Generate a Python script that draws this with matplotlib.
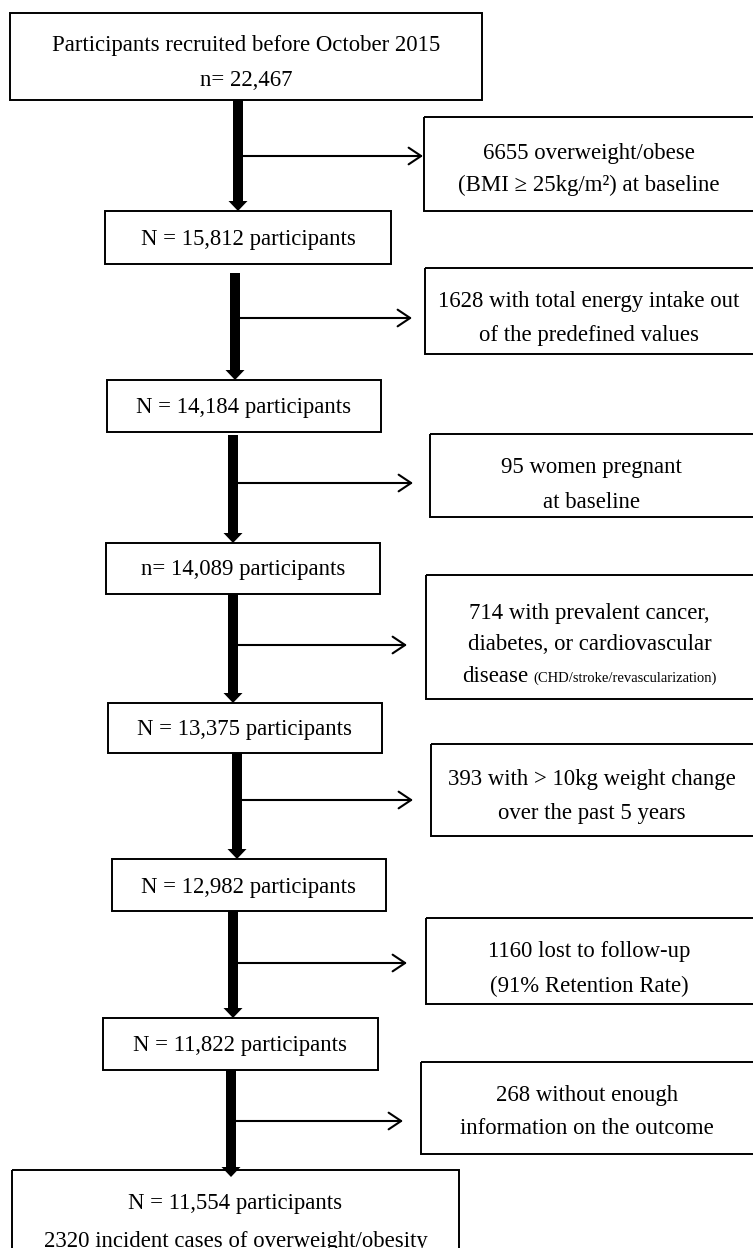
import matplotlib.pyplot as plt
from matplotlib.patches import Rectangle, FancyArrow

plt.rcParams['font.family'] = ['Liberation Serif', 'DejaVu Serif']

# main flow boxes (left column)
main_text = [
    "Participants recruited before October 2015\nn= 22,467",
    "N = 15,812 participants",
    "N = 14,184 participants",
    "n= 14,089 participants",
    "N = 13,375 participants",
    "N = 12,982 participants",
    "N = 11,822 participants",
    "N = 11,554 participants\n2320 incident cases of overweight/obesity",
]

# exclusion boxes (right column)
excl_text = [
    "6655 overweight/obese\n(BMI \u2265 25kg/m\u00b2) at baseline",
    "1628 with total energy intake out\nof the predefined values",
    "95 women pregnant\nat baseline",
    "714 with prevalent cancer,\ndiabetes, or cardiovascular\ndisease",
    "393 with > 10kg weight change\nover the past 5 years",
    "1160 lost to follow-up\n(91% Retention Rate)",
    "268 without enough\ninformation on the outcome",
]
excl_note = "(CHD/stroke/revascularization)"

# layout in pixels: (left, right, top, bottom)
main_box = [(10, 482, 13, 100), (105, 391, 211, 264), (107, 381, 380, 432),
            (106, 380, 543, 594), (108, 382, 703, 753), (112, 386, 859, 911),
            (103, 378, 1018, 1070), (12, 459, 1170, 1270)]
main_lines_y = [[46, 81], [239], [408], [570], [730], [887], [1046], [1204, 1241]]
excl_box = [(424, 760, 117, 211), (425, 760, 268, 354), (430, 760, 434, 517),
            (426, 760, 575, 699), (431, 760, 744, 836), (426, 760, 918, 1004),
            (421, 760, 1062, 1154)]
excl_lines_y = [[153, 185], [302, 335], [468, 503], [613, 644, 676], [779, 813],
                [951, 986], [1096, 1129]]
# down arrows: (x, y_start, y_tip), side arrow y and tip x
down = [(238, 100, 211), (235, 273, 380), (233, 435, 543), (233, 594, 703),
        (237, 753, 859), (233, 911, 1018), (231, 1070, 1177)]
side_y = [156, 318, 483, 645, 800, 963, 1121]
side_tip = [423, 412, 413, 407, 413, 407, 403]

fs = 16.4

fig = plt.figure(figsize=(7.53, 12.48), dpi=100)
ax = fig.add_axes([0, 0, 1, 1])
ax.set_xlim(0, 753)
ax.set_ylim(1248, 0)
ax.axis('off')


def draw_box(box, lines, ys):
    l, r, t, b = box
    ax.add_patch(Rectangle((l, t), r - l, b - t, fill=False, ec='black', lw=1.4))
    cx = (l + min(r, 753)) / 2
    for txt, y in zip(lines, ys):
        ax.text(cx, y, txt, ha='center', va='center', fontsize=fs)


for txt, box, ys in zip(main_text, main_box, main_lines_y):
    draw_box(box, txt.split("\n"), ys)

for i, (txt, box, ys) in enumerate(zip(excl_text, excl_box, excl_lines_y)):
    lines = txt.split("\n")
    if i == 3:
        # last line has a small note after "disease"
        draw_box(box, lines[:2], ys[:2])
        cx = (box[0] + 753) / 2
        fig.canvas.draw()
        r = fig.canvas.get_renderer()
        t1 = ax.text(0, ys[2], lines[2], ha='left', va='center', fontsize=fs)
        t2 = ax.text(0, ys[2] + 2, excl_note, ha='left', va='center', fontsize=10.5)
        w1 = t1.get_window_extent(r).width
        w2 = t2.get_window_extent(r).width
        gap = 5
        x0 = cx - (w1 + gap + w2) / 2
        t1.set_x(x0)
        t2.set_x(x0 + w1 + gap)
    else:
        draw_box(box, lines, ys)

for (x, y0, y1), sy, tip in zip(down, side_y, side_tip):
    ax.add_patch(FancyArrow(x, y0, 0, y1 - y0, width=10, head_width=19,
                            head_length=10, length_includes_head=True,
                            color='black', lw=0))
    ax.annotate('', xy=(tip, sy), xytext=(x, sy),
                arrowprops=dict(arrowstyle='->,head_length=0.9,head_width=0.6',
                                lw=1.5, color='black', shrinkA=0, shrinkB=0))

fig.savefig('out.png', dpi=100, facecolor='white')
